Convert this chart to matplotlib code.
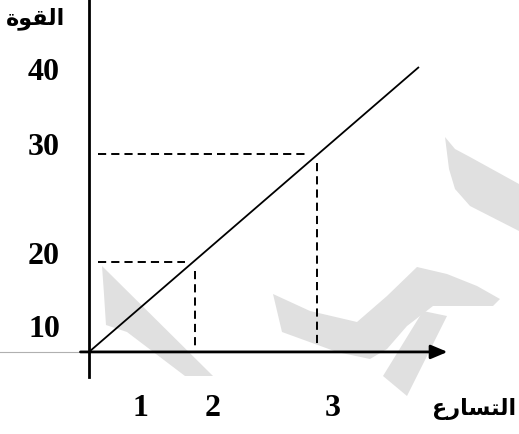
import matplotlib.pyplot as plt
from matplotlib.patches import Polygon

# force against acceleration (schematic sketch, values as printed)
accel_pts = [2, 3]
force_pts = [20, 30]
line_accel = [1.13, 3.83]
line_force = [11.67, 38.0]

x_ticks = ['1', '2', '3']
x_tick_pos = [1.55, 2.14, 3.13]
y_ticks = ['10', '20', '30', '40']
y_tick_pos = [13.8, 20.6, 30.7, 37.6]

# Arabic written in presentation forms, visual order (no shaping in matplotlib)
x_title = '\uFEC9\uFEAD\uFE8E\uFEB4\uFE98\uFEDF\uFE8D'   # التسارع
y_title = '\uFE93\uFEEE\uFED8\uFEDF\uFE8D'              # القوة

W, H = 519, 435
fig = plt.figure(figsize=(W / 100, H / 100), dpi=100)
ax = fig.add_axes([0, 0, 1, 1])
ax.set_xlim(0.40, 4.656)
ax.set_ylim(4.07, 44.35)
ax.axis('off')

# faint watermark shapes behind the sketch (pixel outlines)
marks = [
    [(102, 267), (213, 377), (185, 377), (127, 333), (106, 326), (104, 295)],
    [(273, 295), (310, 312), (357, 323), (387, 297), (417, 268), (447, 275),
     (477, 287), (500, 300), (493, 307), (460, 307), (433, 307), (407, 327),
     (387, 350), (370, 360), (337, 353), (282, 333)],
    [(423, 312), (447, 317), (407, 397), (383, 377)],
    [(445, 138), (449, 170), (455, 190), (470, 207), (519, 232), (519, 185),
     (470, 158), (455, 150)],
]
for m in marks:
    pts = [(x / W, 1 - y / H) for x, y in m]
    ax.add_patch(Polygon(pts, closed=True, transform=fig.transFigure,
                         facecolor='#e0e0e0', edgecolor='none', zorder=0))

x0, y0 = line_accel[0], line_force[0]

# axes
ax.plot([x0, x0], [9.35, 45], color='black', lw=2, zorder=3)
ax.plot([0.40, 1.06], [y0, y0], color='#b0b0b0', lw=0.8, zorder=2)
ax.annotate('', xy=(4.07, y0), xytext=(1.06, y0),
            arrowprops=dict(arrowstyle='-|>,head_length=1.0,head_width=0.42',
                            mutation_scale=10, lw=2, color='black',
                            shrinkA=0, shrinkB=0), zorder=3)

# the straight line
ax.plot(line_accel, line_force, color='black', lw=1.3, zorder=3)

# dashed guides
dash = (0, (4.2, 2.6))
for a, f in zip(accel_pts, force_pts):
    ax.plot([1.2, a - 0.08], [f, f], color='black', lw=1.4,
            linestyle=dash, zorder=3)
    ax.plot([a, a], [f - 0.85, y0 + 0.5], color='black', lw=1.4,
            linestyle=dash, zorder=3)

# labels
for lab, p in zip(y_ticks, y_tick_pos):
    ax.text(0.893, p, lab, ha='right', va='center', fontsize=23,
            fontweight='bold', family='Liberation Serif')
for lab, p in zip(x_ticks, x_tick_pos):
    ax.text(p, 6.57, lab, ha='center', va='center', fontsize=23,
            fontweight='bold', family='Liberation Serif')

ax.text(4.635, 6.5, x_title, ha='right', va='center', fontsize=16,
        fontweight='bold', family='DejaVu Sans')
ax.text(0.695, 42.6, y_title, ha='center', va='center', fontsize=16,
        fontweight='bold', family='DejaVu Sans')

fig.savefig('out.png', dpi=100)
